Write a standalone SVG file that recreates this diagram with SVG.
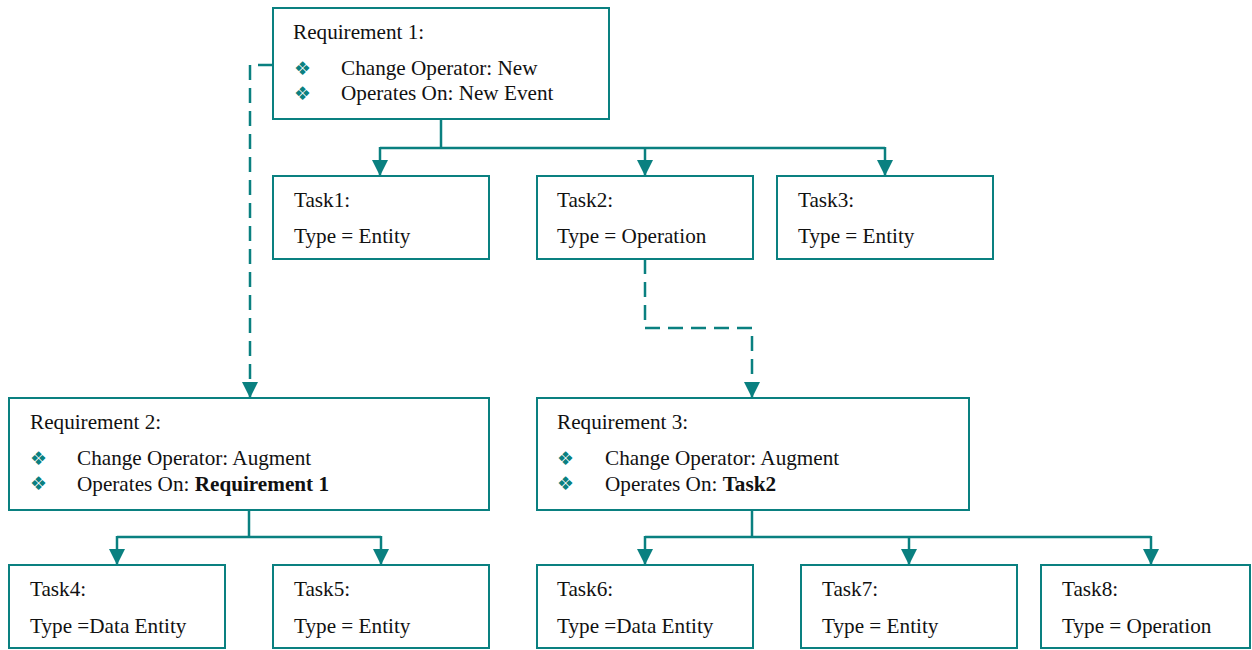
<svg xmlns="http://www.w3.org/2000/svg" width="1252" height="650" viewBox="0 0 1252 650">
  <style>
    .box { fill: #ffffff; stroke: #0a8080; stroke-width: 2; }
    .t { font-family: "Liberation Serif", "Times New Roman", serif; font-size: 21.2px; fill: #111111; }
    .b { font-weight: bold; }
    .bul { font-family: "DejaVu Sans", sans-serif; font-size: 19px; fill: #0a8080; }
    .link { fill: none; stroke: #0a8080; stroke-width: 2.5; }
    .dash { stroke-dasharray: 15 8; }
  </style>
  <defs>
    <marker id="arrow" markerUnits="userSpaceOnUse" markerWidth="18" markerHeight="16" refX="16" refY="8" orient="auto">
      <path d="M0,0 L16,8 L0,16 Z" fill="#0a8080"/>
    </marker>
  </defs>
  <rect width="1252" height="650" fill="#ffffff"/>

  <g id="connectors">
    <!-- Requirement 1 to tasks 1-3 -->
    <path class="link" d="M441,119 V148"/>
    <path class="link" d="M380,148 H885"/>
    <path class="link" d="M380,147 V176" marker-end="url(#arrow)"/>
    <path class="link" d="M645,147 V176" marker-end="url(#arrow)"/>
    <path class="link" d="M885,147 V176" marker-end="url(#arrow)"/>
    <!-- Requirement 1 augmented by Requirement 2 -->
    <path class="link dash" d="M273,65 H250 V398" marker-end="url(#arrow)"/>
    <!-- Task2 augmented by Requirement 3 -->
    <path class="link dash" d="M645,259 V328 H752 V398" marker-end="url(#arrow)"/>
    <!-- Requirement 2 to tasks 4-5 -->
    <path class="link" d="M249,510 V537"/>
    <path class="link" d="M117,537 H381"/>
    <path class="link" d="M117,536 V565" marker-end="url(#arrow)"/>
    <path class="link" d="M381,536 V565" marker-end="url(#arrow)"/>
    <!-- Requirement 3 to tasks 6-8 -->
    <path class="link" d="M752,510 V537"/>
    <path class="link" d="M645,537 H1151"/>
    <path class="link" d="M645,536 V565" marker-end="url(#arrow)"/>
    <path class="link" d="M909,536 V565" marker-end="url(#arrow)"/>
    <path class="link" d="M1151,536 V565" marker-end="url(#arrow)"/>
  </g>

  <g id="req1">
    <rect class="box" x="273" y="8" width="336" height="111"/>
    <text class="t" x="293" y="39">Requirement 1:</text>
    <text class="bul" x="294" y="75">❖</text>
    <text class="t" x="341" y="75">Change Operator: New</text>
    <text class="bul" x="294" y="100">❖</text>
    <text class="t" x="341" y="100">Operates On: New Event</text>
  </g>

  <g id="task1">
    <rect class="box" x="273" y="176" width="216" height="83"/>
    <text class="t" x="294" y="207">Task1:</text>
    <text class="t" x="294" y="243">Type = Entity</text>
  </g>
  <g id="task2">
    <rect class="box" x="537" y="176" width="216" height="83"/>
    <text class="t" x="557" y="207">Task2:</text>
    <text class="t" x="557" y="243">Type = Operation</text>
  </g>
  <g id="task3">
    <rect class="box" x="777" y="176" width="216" height="83"/>
    <text class="t" x="798" y="207">Task3:</text>
    <text class="t" x="798" y="243">Type = Entity</text>
  </g>

  <g id="req2">
    <rect class="box" x="9" y="398" width="480" height="112"/>
    <text class="t" x="30" y="429">Requirement 2:</text>
    <text class="bul" x="30" y="465">❖</text>
    <text class="t" x="77" y="465">Change Operator: Augment</text>
    <text class="bul" x="30" y="490">❖</text>
    <text class="t" x="77" y="491">Operates On: <tspan class="b">Requirement 1</tspan></text>
  </g>

  <g id="req3">
    <rect class="box" x="537" y="398" width="432" height="112"/>
    <text class="t" x="557" y="429">Requirement 3:</text>
    <text class="bul" x="557" y="465">❖</text>
    <text class="t" x="605" y="465">Change Operator: Augment</text>
    <text class="bul" x="557" y="490">❖</text>
    <text class="t" x="605" y="491">Operates On: <tspan class="b">Task2</tspan></text>
  </g>

  <g id="task4">
    <rect class="box" x="9" y="565" width="216" height="83"/>
    <text class="t" x="30" y="596">Task4:</text>
    <text class="t" x="30" y="633">Type =Data Entity</text>
  </g>
  <g id="task5">
    <rect class="box" x="273" y="565" width="216" height="83"/>
    <text class="t" x="294" y="596">Task5:</text>
    <text class="t" x="294" y="633">Type = Entity</text>
  </g>
  <g id="task6">
    <rect class="box" x="537" y="565" width="216" height="83"/>
    <text class="t" x="557" y="596">Task6:</text>
    <text class="t" x="557" y="633">Type =Data Entity</text>
  </g>
  <g id="task7">
    <rect class="box" x="801" y="565" width="216" height="83"/>
    <text class="t" x="822" y="596">Task7:</text>
    <text class="t" x="822" y="633">Type = Entity</text>
  </g>
  <g id="task8">
    <rect class="box" x="1041" y="565" width="209" height="83"/>
    <text class="t" x="1062" y="596">Task8:</text>
    <text class="t" x="1062" y="633">Type = Operation</text>
  </g>
</svg>
